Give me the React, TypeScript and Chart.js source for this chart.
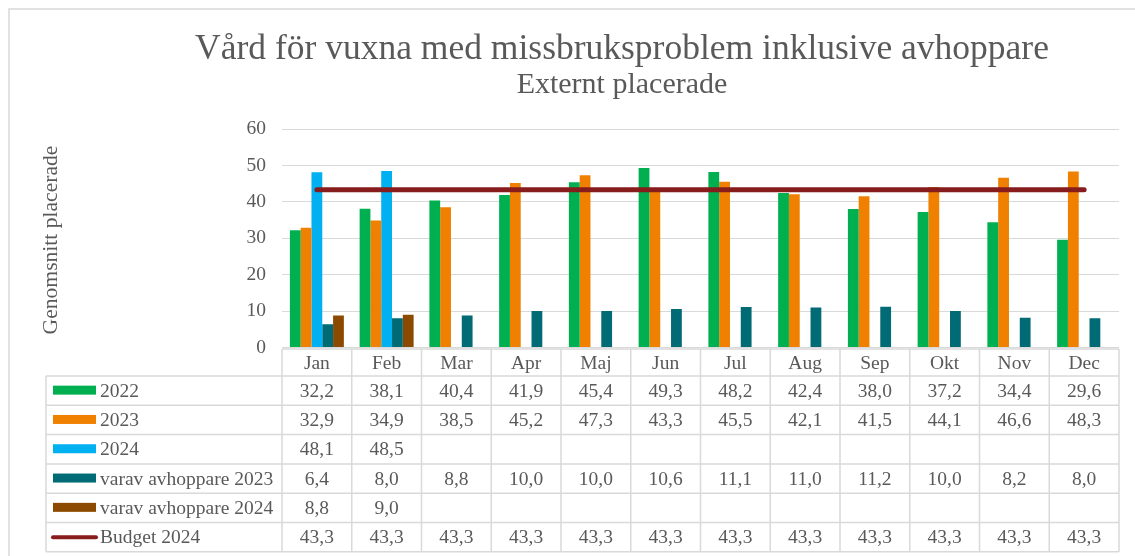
import React, { useEffect, useRef } from "react";
import { Chart, registerables } from "chart.js";

Chart.register(...registerables);

const titleText = "Vård för vuxna med missbruksproblem inklusive avhoppare";
const subtitleText = "Externt placerade";
const yAxisTitle = "Genomsnitt placerade";

const months = ["Jan", "Feb", "Mar", "Apr", "Maj", "Jun", "Jul", "Aug", "Sep", "Okt", "Nov", "Dec"];
const s2022 = [32.2, 38.1, 40.4, 41.9, 45.4, 49.3, 48.2, 42.4, 38.0, 37.2, 34.4, 29.6];
const s2023 = [32.9, 34.9, 38.5, 45.2, 47.3, 43.3, 45.5, 42.1, 41.5, 44.1, 46.6, 48.3];
const s2024 = [48.1, 48.5, null, null, null, null, null, null, null, null, null, null];
const avh2023 = [6.4, 8.0, 8.8, 10.0, 10.0, 10.6, 11.1, 11.0, 11.2, 10.0, 8.2, 8.0];
const avh2024 = [8.8, 9.0, null, null, null, null, null, null, null, null, null, null];
const budget2024 = [43.3, 43.3, 43.3, 43.3, 43.3, 43.3, 43.3, 43.3, 43.3, 43.3, 43.3, 43.3];
const yTicks = [0, 10, 20, 30, 40, 50, 60];

const seriesNames = ["2022", "2023", "2024", "varav avhoppare 2023", "varav avhoppare 2024", "Budget 2024"];
const seriesColors = ["#00B050", "#F08000", "#00B0F0", "#006B75", "#8C4A00", "#861C1C"];

const FONT = "'Liberation Serif', 'Times New Roman', serif";
const TEXT = "#595959";
const LINE = "#d9d9d9";

const fmt = (v: number | null) => (v === null || v === undefined ? "" : v.toFixed(1).replace(".", ","));

const decorPlugin = {
  id: "decor",
  beforeDraw(chart: any) {
    const ctx = chart.ctx;
    ctx.save();
    ctx.strokeStyle = LINE;
    ctx.lineWidth = 1.5;
    ctx.beginPath();
    ctx.moveTo(9, chart.height + 5);
    ctx.lineTo(9, 9);
    ctx.lineTo(chart.width + 5, 9);
    ctx.stroke();

    ctx.fillStyle = TEXT;
    ctx.textAlign = "center";
    ctx.textBaseline = "alphabetic";
    ctx.font = `35.5px ${FONT}`;
    ctx.fillText(titleText, 622, 59);
    ctx.font = `30px ${FONT}`;
    ctx.fillText(subtitleText, 622, 93);

    ctx.translate(51, 240);
    ctx.rotate(-Math.PI / 2);
    ctx.textBaseline = "middle";
    ctx.font = `21.6px ${FONT}`;
    ctx.fillText(yAxisTitle, 0, 0);
    ctx.restore();
  },
  afterDraw(chart: any) {
    const ctx = chart.ctx;
    const xs = chart.scales.x;
    const area = chart.chartArea;
    const n = months.length;
    const cw = (area.right - area.left) / n;
    const headTop = area.bottom + 1.5;
    const headBottom = 376;
    const rowH = 29.3;
    const tableLeft = 46;
    const rows = [s2022, s2023, s2024, avh2023, avh2024, budget2024];
    const tableBottom = headBottom + rowH * rows.length;

    ctx.save();
    ctx.strokeStyle = LINE;
    ctx.lineWidth = 1.5;
    ctx.beginPath();
    for (let i = 0; i <= n; i++) {
      const x = xs.getPixelForValue(0) - cw / 2 + i * cw;
      ctx.moveTo(x, headTop);
      ctx.lineTo(x, tableBottom);
    }
    ctx.moveTo(tableLeft, headBottom);
    ctx.lineTo(tableLeft, tableBottom);
    ctx.moveTo(area.left, headTop);
    ctx.lineTo(area.right, headTop);
    for (let r = 0; r <= rows.length; r++) {
      const y = headBottom + r * rowH;
      ctx.moveTo(tableLeft, y);
      ctx.lineTo(area.right, y);
    }
    ctx.stroke();

    ctx.fillStyle = TEXT;
    ctx.font = `19.5px ${FONT}`;
    ctx.textAlign = "center";
    ctx.textBaseline = "middle";
    months.forEach((m, i) => {
      ctx.fillText(m, xs.getPixelForValue(i), (headTop + headBottom) / 2 + 1);
    });
    rows.forEach((vals, r) => {
      const cy = headBottom + r * rowH + rowH / 2 + 1;
      vals.forEach((v, i) => {
        ctx.fillText(fmt(v as any), xs.getPixelForValue(i), cy);
      });
    });

    ctx.textAlign = "left";
    rows.forEach((_, r) => {
      const cy = headBottom + r * rowH + rowH / 2;
      if (r === rows.length - 1) {
        ctx.strokeStyle = seriesColors[r];
        ctx.lineWidth = 4;
        ctx.lineCap = "round";
        ctx.beginPath();
        ctx.moveTo(53, cy);
        ctx.lineTo(96, cy);
        ctx.stroke();
      } else {
        ctx.fillStyle = seriesColors[r];
        ctx.fillRect(53, cy - 5, 43, 9);
      }
      ctx.fillStyle = TEXT;
      ctx.fillText(seriesNames[r], 100, cy + 1);
    });
    ctx.restore();
  },
};

export default function App() {
  const ref = useRef<HTMLCanvasElement | null>(null);

  useEffect(() => {
    document.body.style.margin = "0";
    document.body.style.overflow = "hidden";
    const barSeries = [s2022, s2023, s2024, avh2023, avh2024];
    const chart = new Chart(ref.current as HTMLCanvasElement, {
      type: "bar",
      data: {
        labels: months,
        datasets: [
          ...barSeries.map((d, i) => ({
            type: "bar" as const,
            label: seriesNames[i],
            data: d,
            backgroundColor: seriesColors[i],
            borderWidth: 0,
            categoryPercentage: 0.774,
            barPercentage: 1,
            order: 2,
          })),
          {
            type: "line" as const,
            label: seriesNames[5],
            data: budget2024,
            borderColor: seriesColors[5],
            backgroundColor: seriesColors[5],
            borderWidth: 5,
            borderCapStyle: "round",
            pointRadius: 0,
            order: 0,
          } as any,
        ],
      },
      options: {
        responsive: false,
        animation: false,
        devicePixelRatio: 1,
        layout: { padding: { left: 0, right: 16, top: 129, bottom: 208.5 } },
        plugins: { legend: { display: false }, tooltip: { enabled: false }, title: { display: false } },
        scales: {
          x: { display: false, offset: true },
          y: {
            min: 0,
            max: 60,
            afterBuildTicks: (scale: any) => {
              scale.ticks = yTicks.map((v) => ({ value: v }));
            },
            afterFit: (scale: any) => {
              scale.width = 282;
            },
            border: { display: false },
            grid: { color: LINE, lineWidth: 1, drawTicks: false },
            ticks: {
              color: TEXT,
              padding: 16,
              font: { family: "'Liberation Serif', 'Times New Roman', serif", size: 19.5 },
            },
          },
        },
      },
      plugins: [decorPlugin],
    });
    return () => chart.destroy();
  }, []);

  return <canvas ref={ref} width={1135} height={556} style={{ display: "block", width: 1135, height: 556 }} />;
}
